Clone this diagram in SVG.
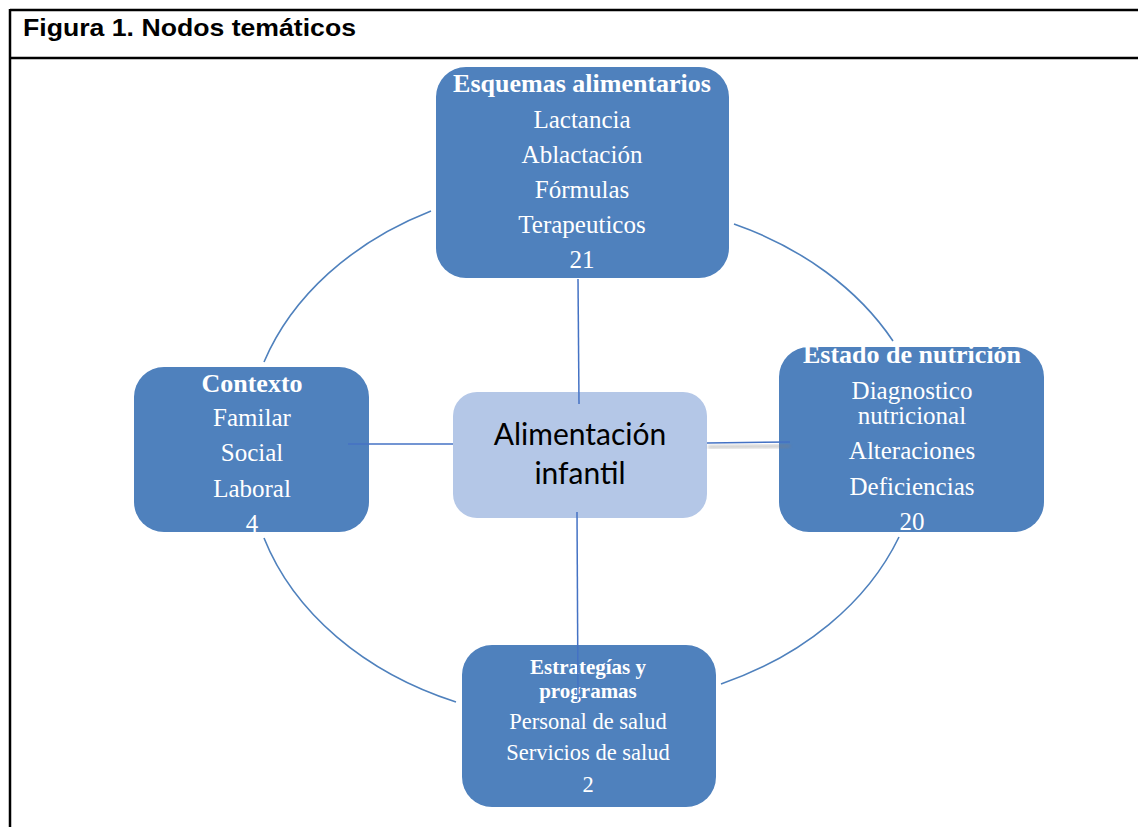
<svg xmlns="http://www.w3.org/2000/svg" width="1138" height="827" viewBox="0 0 1138 827">
<defs>
<style>
.node{fill:#4F81BD;}
.center{fill:#B4C7E7;}
.t{font-family:"Liberation Serif","Times New Roman",serif;fill:#ffffff;text-anchor:middle;font-size:25px;}
.tb{font-weight:bold;font-size:26px;}
.ts{font-size:22.5px;}
.tsb{font-weight:bold;font-size:21px;}
.c{font-family:Lato,"Liberation Sans",sans-serif;fill:#000000;text-anchor:middle;font-size:30px;}
.arc{fill:none;stroke:#4F81BD;stroke-width:1.6;}
.link{fill:none;stroke:#4472C4;stroke-width:1.5;}
.border{stroke:#000000;stroke-width:2.5;fill:none;}
</style>
<filter id="blur" x="-20%" y="-200%" width="140%" height="500%"><feGaussianBlur stdDeviation="1.5"/></filter>
</defs>
<rect width="1138" height="827" fill="#ffffff"/>
<g id="frame">
<line class="border" x1="10" y1="10" x2="1138" y2="10"/>
<line class="border" x1="10" y1="58" x2="1138" y2="58"/>
<line class="border" x1="10" y1="9" x2="10" y2="827"/>
<text x="23" y="36" font-family="'Liberation Sans',Arial,sans-serif" font-weight="bold" font-size="24" textLength="333" lengthAdjust="spacingAndGlyphs" fill="#000000">Figura 1. Nodos temáticos</text>
</g>
<g id="arcs">
<path class="arc" d="M 431 211 A 333 262 0 0 0 264 362"/>
<path class="arc" d="M 734 224 A 333 262 0 0 1 893 341"/>
<path class="arc" d="M 264 538 A 333 262 0 0 0 456 702"/>
<path class="arc" d="M 899 537 A 333 262 0 0 1 721 684"/>
</g>
<g id="node-esquemas">
<rect class="node" x="436" y="67" width="293" height="211" rx="30"/>
<text class="t tb" x="582" y="92">Esquemas alimentarios</text>
<text class="t" x="582" y="128">Lactancia</text>
<text class="t" x="582" y="163">Ablactación</text>
<text class="t" x="582" y="198">Fórmulas</text>
<text class="t" x="582" y="233">Terapeuticos</text>
<text class="t" x="582" y="268">21</text>
</g>
<g id="node-contexto">
<rect class="node" x="134" y="367" width="235" height="165" rx="30"/>
<text class="t tb" x="252" y="392">Contexto</text>
<text class="t" x="252" y="426">Familar</text>
<text class="t" x="252" y="461">Social</text>
<text class="t" x="252" y="497">Laboral</text>
<text class="t" x="252" y="532">4</text>
</g>
<g id="node-estado">
<rect class="node" x="779" y="347" width="265" height="185" rx="30"/>
<text class="t tb" x="912" y="363">Estado de nutrición</text>
<text class="t" x="912" y="399">Diagnostico</text>
<text class="t" x="912" y="424">nutricional</text>
<text class="t" x="912" y="459">Alteraciones</text>
<text class="t" x="912" y="495">Deficiencias</text>
<text class="t" x="912" y="530">20</text>
</g>
<g id="node-estrategias">
<rect class="node" x="462" y="645" width="254" height="162" rx="30"/>
<text class="t tsb" x="588" y="674">Estrategías y</text>
<text class="t tsb" x="588" y="698">programas</text>
<text class="t ts" x="588" y="729">Personal de salud</text>
<text class="t ts" x="588" y="760">Servicios de salud</text>
<text class="t ts" x="588" y="792">2</text>
</g>
<g id="node-center">
<rect class="center" x="453" y="392" width="254" height="126" rx="24"/>
<text class="c" x="580" y="445">Alimentación</text>
<text class="c" x="580" y="484">infantil</text>
</g>
<g id="connectors">
<line class="link" x1="578" y1="279" x2="579" y2="404"/>
<line class="link" x1="577" y1="512" x2="578" y2="700"/>
<line class="link" x1="348" y1="444" x2="453" y2="444"/>
<line x1="708" y1="447" x2="790" y2="446" stroke="#7f7f7f" stroke-width="3" opacity="0.45" filter="url(#blur)"/>
<line class="link" x1="707" y1="443" x2="790" y2="442"/>
</g>
</svg>
